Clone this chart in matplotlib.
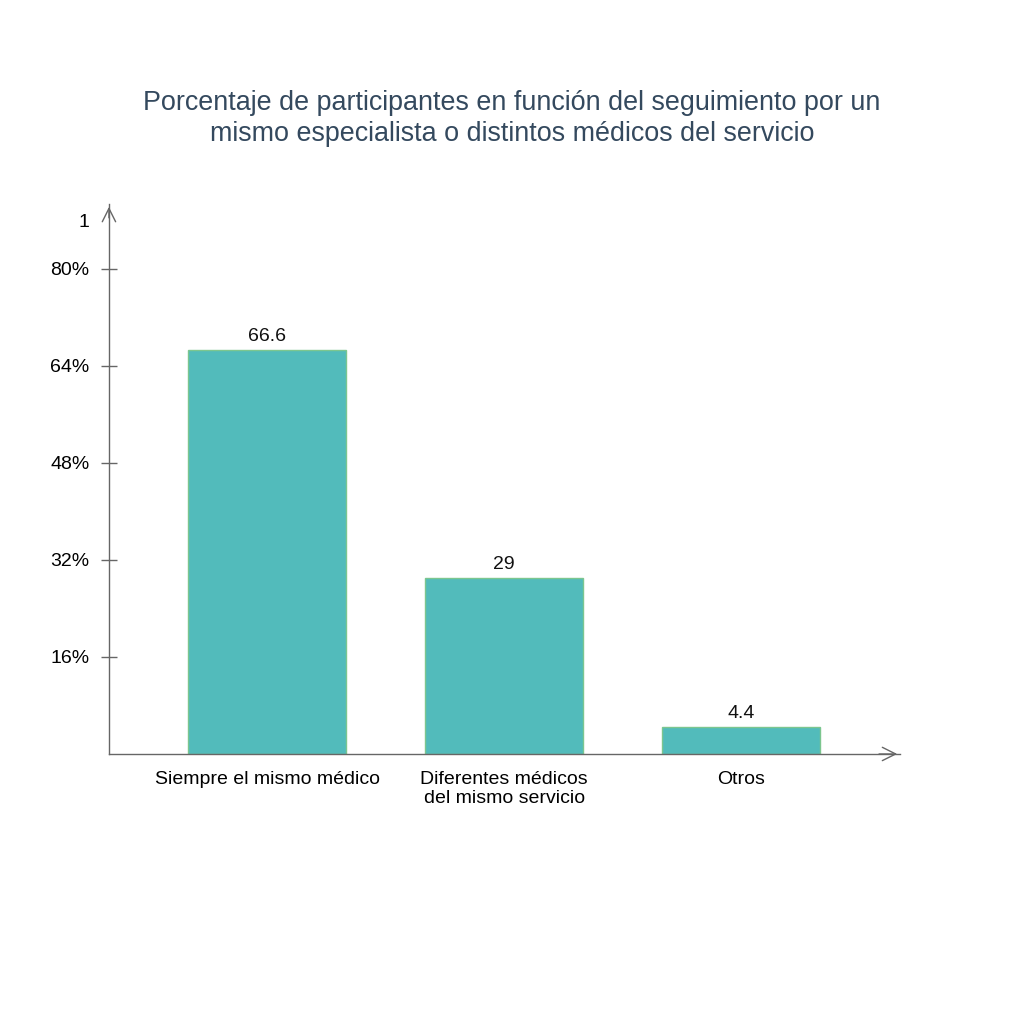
import matplotlib.pyplot as plt
import numpy as np

plt.rcParams['font.family'] = ['Liberation Sans', 'DejaVu Sans']

#===========================================================================================
# Datos
#===========================================================================================
categorias = ["Siempre el mismo médico", "Diferentes médicos\ndel mismo servicio", "Otros"]
valores = [66.6, 29, 4.4]
etiquetas_valor = ["66.6", "29", "4.4"]
ticks_y = [16, 32, 48, 64, 80, 88]
etiquetas_y = ["16%", "32%", "48%", "64%", "80%", "1"]

titulo = ("Porcentaje de participantes en función del seguimiento por un\n"
          "mismo especialista o distintos médicos del servicio")

#===========================================================================================
# Grafica
#===========================================================================================
fig = plt.figure(figsize=(10.24, 10.24), dpi=100)
ax = fig.add_axes([0.1064, 0.2637, 0.7725, 0.537])

x = np.arange(len(categorias))
ax.bar(x, valores, width=0.667, color='#52bbbb', edgecolor='#7cc68f', linewidth=1)

for xi, v, t in zip(x, valores, etiquetas_valor):
    ax.text(xi, v + 0.8, t, ha='center', va='bottom', fontsize=14, color='#111111')

ax.set_xlim(-0.667, 2.67)
ax.set_ylim(0, 90.7)

ax.set_xticks(x)
ax.set_xticklabels(categorias, fontsize=14)
ax.tick_params(axis='x', length=0, pad=12)

ax.set_yticks(ticks_y)
ax.set_yticklabels(etiquetas_y, fontsize=14)
ax.tick_params(axis='y', direction='inout', length=12, width=1, color='#666666', pad=8)
# la etiqueta "1" no lleva marca
ax.yaxis.get_major_ticks()[-1].tick1line.set_visible(False)

for s in ['top', 'right']:
    ax.spines[s].set_visible(False)
for s in ['left', 'bottom']:
    ax.spines[s].set_color('#666666')
    ax.spines[s].set_linewidth(1)

# flechas en los ejes
ax.annotate('', xy=(1.0, 0), xytext=(0.97, 0), xycoords='axes fraction',
            arrowprops=dict(arrowstyle='->,head_length=0.8,head_width=0.4',
                            color='#666666', lw=1, mutation_scale=12))
ax.annotate('', xy=(0, 1.0), xytext=(0, 0.97), xycoords='axes fraction',
            arrowprops=dict(arrowstyle='->,head_length=0.8,head_width=0.4',
                            color='#666666', lw=1, mutation_scale=12))

fig.text(0.5, 0.912, titulo, ha='center', va='top', fontsize=19.4, color='#34495e',
         linespacing=1.25)

plt.savefig('out.png', dpi=100)
